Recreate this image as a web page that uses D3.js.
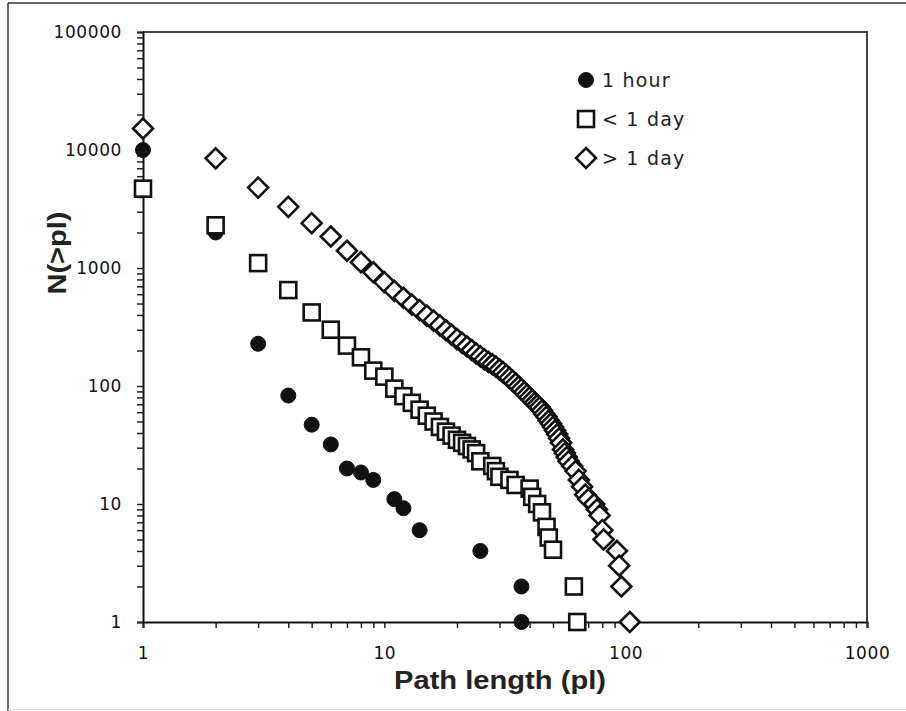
<!DOCTYPE html>
<html>
<head>
<meta charset="utf-8">
<script src="https://cdn.jsdelivr.net/npm/d3@7"></script>
<style>
  body { margin: 0; background: #fff; }
  svg { display: block; }
</style>
</head>
<body>
<svg></svg>
<script>
// chart size
const width = 906;
const height = 711;
const margin = { top: 32, right: 39, bottom: 89, left: 143 };

// 1 hour (filled circles)
const hourX = [1, 2, 3, 4, 5, 6, 7, 8, 9, 11, 12, 14, 25, 37, 37];
const hourY = [10000, 2000, 228, 83, 47, 32, 20, 18.5, 16, 11, 9.2, 6, 4, 2, 1];

// < 1 day (open squares)
const lessDayX = [1, 2, 3, 4, 5, 6, 7, 8, 9, 10, 11, 12, 13, 14, 15, 16, 17, 18, 19, 20,
    21, 22, 23, 24, 25, 28, 29, 30, 33, 35, 40, 41, 43, 45, 47, 48, 50, 61, 63];
const lessDayY = [4700, 2300, 1100, 650, 420, 300, 220, 175, 135, 120, 95, 82, 72, 63, 56, 50, 45, 41, 38, 35,
    33, 31, 29, 27, 23, 21, 19, 17, 16, 14.5, 13.5, 11.5, 10, 8.5, 6.4, 5.2, 4.1, 2, 1];

// > 1 day (open diamonds)
const moreDayX = [1, 2, 3, 4, 5, 6, 7, 8, 9, 10, 11, 12, 13, 14, 15, 16, 17, 18, 19, 20,
    21, 22, 23, 24, 25, 26, 27, 28, 29, 30, 31, 32, 33, 34, 35, 36, 37, 38, 39, 40,
    41, 42, 43, 44, 45, 46, 47, 48, 49, 50, 51, 52, 53, 54, 55, 56, 57, 58, 60, 62,
    64, 66, 68, 70, 74, 76, 78, 80, 81, 92, 94, 96, 104];
const moreDayY = [15200, 8500, 4800, 3300, 2400, 1850, 1400, 1120, 920, 760, 640, 560, 490, 440, 395, 358, 326, 297, 272, 250,
    232, 216, 202, 189, 178, 168, 160, 153, 146, 138, 131, 124, 117, 111, 105, 99, 94, 89, 84, 80,
    76, 72, 69, 66, 62, 58, 55, 51, 48, 45, 42, 39, 36, 33, 29, 27, 25, 23, 21, 19,
    16, 14, 12, 11, 10, 9, 8, 6, 5, 4, 3, 2, 1];

const legendLabels = ["1 hour", "< 1 day", "> 1 day"];
const xMajor = [1, 10, 100, 1000];
const yMajor = [1, 10, 100, 1000, 10000, 100000];

const svg = d3.select("svg")
    .attr("width", width)
    .attr("height", height);

// outer frame of the figure
svg.append("line").attr("x1", 8).attr("x2", 8).attr("y1", 3).attr("y2", 711)
    .style("stroke", "#333").style("stroke-width", 1.5);
svg.append("line").attr("x1", 8).attr("x2", 906).attr("y1", 3).attr("y2", 3)
    .style("stroke", "#333").style("stroke-width", 1.5);
svg.append("line").attr("x1", 8).attr("x2", 906).attr("y1", 709.5).attr("y2", 709.5)
    .style("stroke", "#ddd").style("stroke-width", 1);

const innerW = width - margin.left - margin.right;
const innerH = height - margin.top - margin.bottom;

const g = svg.append("g")
    .attr("transform", `translate(${margin.left},${margin.top})`);

const x = d3.scaleLog().domain([1, 1000]).range([0, innerW]);
const y = d3.scaleLog().domain([1, 100000]).range([innerH, 0]);

// all tick positions: majors plus 2..9 inside each decade
function logTicks(majors) {
    const out = [];
    majors.forEach((m, i) => {
        out.push(m);
        if (i < majors.length - 1) for (let k = 2; k <= 9; k++) out.push(m * k);
    });
    return out;
}

// plot box (top and right sides)
g.append("path")
    .attr("d", `M0,0H${innerW}V${innerH}`)
    .style("fill", "none")
    .style("stroke", "#444")
    .style("stroke-width", 2);

const tickFont = "DejaVu Sans, sans-serif";

const xAxis = g.append("g")
    .attr("transform", `translate(0,${innerH})`)
    .call(d3.axisBottom(x)
        .tickValues(logTicks(xMajor))
        .tickSize(6)
        .tickPadding(19)
        .tickFormat(d => xMajor.includes(d) ? d : ""));

const yAxis = g.append("g")
    .call(d3.axisLeft(y)
        .tickValues(logTicks(yMajor))
        .tickSize(6)
        .tickPadding(15)
        .tickFormat(d => yMajor.includes(d) ? d : ""));

[xAxis, yAxis].forEach(a => {
    a.select(".domain").style("stroke", "#111").style("stroke-width", 2);
    a.selectAll(".tick line").style("stroke", "#222").style("stroke-width", 1.5);
    a.selectAll("text")
        .style("font-family", tickFont)
        .style("font-size", "17px")
        .style("letter-spacing", "0.6px")
        .style("fill", "#111");
});

// axis titles
svg.append("text")
    .attr("x", 500)
    .attr("y", 689)
    .attr("text-anchor", "middle")
    .attr("textLength", 212)
    .attr("lengthAdjust", "spacingAndGlyphs")
    .style("font-family", "Liberation Sans, Arial, sans-serif")
    .style("font-weight", "bold")
    .style("font-size", "26px")
    .style("fill", "#222")
    .text("Path length (pl)");

svg.append("text")
    .attr("transform", "translate(66,253) rotate(-90)")
    .attr("text-anchor", "middle")
    .attr("textLength", 83)
    .attr("lengthAdjust", "spacingAndGlyphs")
    .style("font-family", "Liberation Sans, Arial, sans-serif")
    .style("font-weight", "bold")
    .style("font-size", "26px")
    .style("fill", "#222")
    .text("N(>pl)");

// marker drawing helpers
const sq = 16;
const dm = 10;

function drawCircle(sel) {
    sel.append("circle").attr("r", 7.5)
        .style("fill", "#111").style("stroke", "#111").style("stroke-width", 1);
}
function drawSquare(sel) {
    sel.append("rect").attr("x", -sq / 2).attr("y", -sq / 2)
        .attr("width", sq).attr("height", sq)
        .style("fill", "#fff").style("stroke", "#111").style("stroke-width", 2.6);
}
function drawDiamond(sel) {
    sel.append("path").attr("d", `M0,${-dm}L${dm},0L0,${dm}L${-dm},0Z`)
        .style("fill", "#fff").style("stroke", "#111").style("stroke-width", 2.6);
}

const series = [
    { xs: hourX, ys: hourY, draw: drawCircle },
    { xs: lessDayX, ys: lessDayY, draw: drawSquare },
    { xs: moreDayX, ys: moreDayY, draw: drawDiamond }
];

series.forEach(s => {
    const pts = s.xs.map((v, i) => ({ x: v, y: s.ys[i] }));
    g.append("g").selectAll("g")
        .data(pts)
        .enter()
        .append("g")
        .attr("transform", d => `translate(${x(d.x)},${y(d.y)})`)
        .call(s.draw);
});

// legend
const legend = svg.append("g").attr("transform", "translate(586,80)");
series.forEach((s, i) => {
    const row = legend.append("g").attr("transform", `translate(0,${i * 39})`);
    row.append("g").call(s.draw);
    row.append("text")
        .attr("x", 16)
        .attr("y", 7)
        .style("font-family", tickFont)
        .style("font-size", "19px")
        .style("letter-spacing", "1.2px")
        .style("fill", "#222")
        .text(legendLabels[i]);
});
</script>
</body>
</html>
